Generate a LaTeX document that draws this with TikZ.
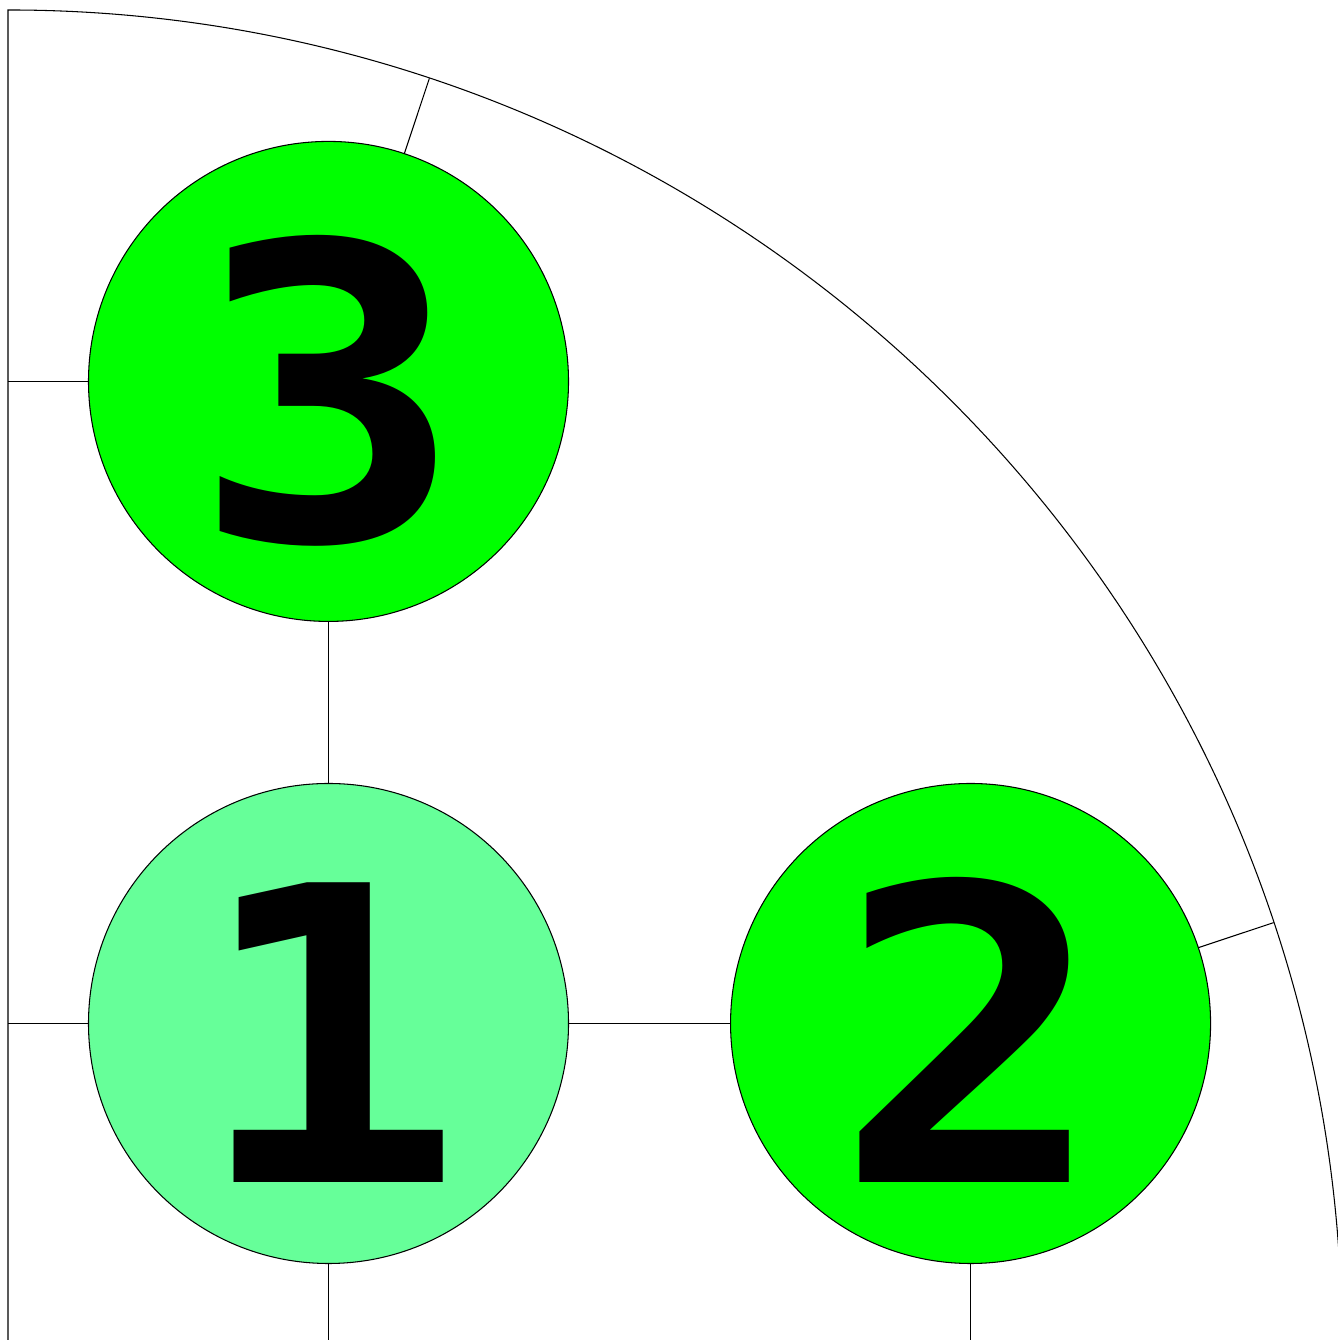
\documentclass[tikz,border=0pt]{standalone}
\usepackage{fontspec}
\newfontfamily\numfont{DejaVu Sans Mono}[FakeStretch=1.1]
\usetikzlibrary{positioning, calc}

\definecolor{softgreen}{HTML}{66FF99}
\definecolor{puregreen}{HTML}{00FF00}

\begin{document}
\begin{tikzpicture}[
        node distance=1.61cm,
        line width=0.3pt,
        site/.style={
            circle,
            draw,
            inner sep=0pt,
            minimum size=4.8cm,
            text height=3.18cm, % puts the baseline low in the disc
            text depth=0pt,
            font=\numfont\bfseries\fontsize{117}{117}\selectfont
        },
        current/.style={site, fill=softgreen},
        visited/.style={site, fill=puregreen}
    ]
        \useasboundingbox (-0.08,0.04) rectangle (13.29,13.44);

        % Frame
        \coordinate (o) at (0,0);
        \draw (o) -- (0,13.34) arc[start angle=90, end angle=0, radius=13.34cm];

        % Nodes
        \node [current] (one) at (3.205,3.205) {1};
        \node [visited, right=of one] (two) {2};
        \node [visited, above=of one] (three) {3};

        % Points on the rim
        \coordinate (rimtwo) at ($(o)!13.34cm!(two)$);
        \coordinate (rimthree) at ($(o)!13.34cm!(three)$);

        % Paths
        \draw (one) -- (two);
        \draw (one) -- (three);
        \draw (one) -- (one -| o);
        \draw (one) -- (one |- o);
        \draw (two) -- (two |- o);
        \draw (three) -- (three -| o);
        \draw (two) -- (rimtwo);
        \draw (three) -- (rimthree);
    \end{tikzpicture}
\end{document}
